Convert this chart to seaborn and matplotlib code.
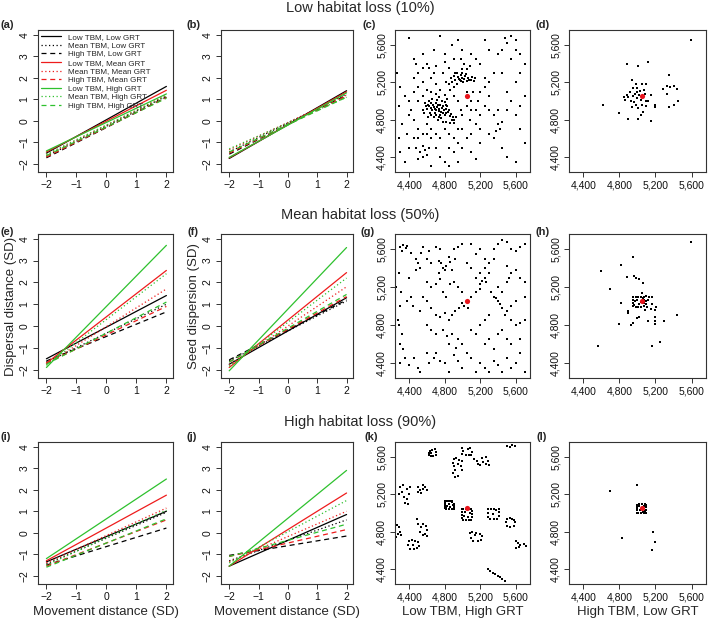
"""Dispersal response lines and seed shadow maps across habitat loss levels."""

import matplotlib
matplotlib.use("Agg")
import matplotlib.pyplot as plt
from matplotlib.lines import Line2D
import pandas as pd
import seaborn as sns

sns.set_theme(style="ticks")
plt.rcParams["font.family"] = ["Liberation Sans", "DejaVu Sans"]

# ---------------------------------------------------------------- data
LINE_LABELS = [
    "Low TBM, Low GRT", "Mean TBM, Low GRT", "High TBM, Low GRT",
    "Low TBM, Mean GRT", "Mean TBM, Mean GRT", "High TBM, Mean GRT",
    "Low TBM, High GRT", "Mean TBM, High GRT", "High TBM, High GRT",
]
MOVE_X = [-2, 2]

# fitted response at movement distance -2 and +2 (SD), one value per line
a_start = [-1.50, -1.65, -1.72, -1.45, -1.60, -1.68, -1.40, -1.55, -1.62]
a_end = [1.60, 1.15, 1.10, 1.42, 1.20, 1.08, 1.25, 1.15, 1.05]
b_start = [-1.75, -1.45, -1.55, -1.72, -1.35, -1.50, -1.70, -1.30, -1.45]
b_end = [1.40, 1.25, 1.20, 1.35, 1.20, 1.15, 1.30, 1.10, 1.10]
e_start = [-1.50, -1.65, -1.60, -1.70, -1.75, -1.70, -1.90, -1.80, -1.75]
e_end = [1.40, 1.00, 0.65, 2.55, 1.70, 0.90, 3.70, 2.40, 1.10]
f_start = [-1.75, -1.60, -1.55, -1.90, -1.80, -1.65, -2.05, -1.85, -1.65]
f_end = [1.30, 1.15, 1.20, 2.45, 1.80, 1.35, 3.60, 2.20, 1.45]
i_start = [-1.35, -1.45, -1.50, -1.30, -1.40, -1.55, -1.20, -1.50, -1.60]
i_end = [1.00, 0.95, 0.22, 1.75, 1.15, 0.60, 2.50, 1.05, 0.65]
j_start = [-1.55, -1.30, -1.05, -1.55, -1.35, -1.10, -1.55, -1.40, -1.10]
j_end = [0.85, 0.60, -0.15, 1.85, 1.00, 0.15, 2.90, 1.50, 0.40]

LINE_TICKS = [-2, -1, 0, 1, 2]
RESP_TICKS = [-2, -1, 0, 1, 2, 3, 4]
MAP_TICKS = [4400, 4800, 5200, 5600]
MAP_TICK_LABELS = ["4,400", "4,800", "5,200", "5,600"]
SOURCE_TREE = (5050, 5050)

ROW_TITLES = ["Low habitat loss (10%)", "Mean habitat loss (50%)",
              "High habitat loss (90%)"]
PANEL_TAGS = ["(a)", "(b)", "(c)", "(d)", "(e)", "(f)",
              "(g)", "(h)", "(i)", "(j)", "(k)", "(l)"]

# seed landing points (x, y in m)
c_pts = [
    (4620, 4950), (4650, 4980), (4680, 4940), (4700, 4900), (4720, 4960), (4740, 4920),
    (4760, 4880), (4780, 4950), (4800, 4990), (4660, 4900), (4690, 4870), (4710, 5010),
    (4740, 5040), (4770, 5000), (4820, 4920), (4840, 4880), (4600, 4920), (4630, 4870),
    (4750, 4850), (4800, 4850), (4680, 4830), (4720, 4800), (4860, 4840), (4880, 4800),
    (4900, 4760), (4580, 4980), (4560, 4900), (4800, 5060), (4830, 5020), (4760, 4820),
    (4610, 4960), (4640, 4930), (4670, 4960), (4690, 4920), (4710, 4940), (4730, 4890),
    (4750, 4960), (4770, 4930), (4790, 4900), (4810, 4960), (4650, 4850), (4700, 4850),
    (4730, 4830), (4780, 4870), (4820, 4870), (4850, 4900), (4870, 4860), (4890, 4830),
    (4700, 4980), (4660, 5020), (4620, 5000), (4590, 4950), (4570, 4870), (4610, 4830),
    (4780, 4780), (4820, 4780), (4860, 4760), (4900, 4800), (4930, 4830), (4830, 4950),
    (4880, 5200), (4920, 5230), (4950, 5260), (4980, 5280), (5000, 5300), (5030, 5270),
    (5060, 5250), (5100, 5230), (5130, 5210), (4900, 5150), (4940, 5180), (4970, 5220),
    (5010, 5200), (5050, 5210), (4860, 5120), (4920, 5300), (4990, 5340), (5050, 5340),
    (5080, 5380), (5020, 5400), (4900, 5270), (4960, 5240), (4980, 5210), (5020, 5240),
    (5040, 5290), (5070, 5220), (5110, 5260), (5140, 5250), (5000, 5250), (4940, 5300),
    (4870, 5250), (4850, 5180), (4500, 5300), (4550, 5200), (4600, 5120), (4650, 5250),
    (4700, 5180), (4750, 5120), (4780, 5300), (4820, 5200), (4850, 5350), (4700, 5380),
    (4600, 5400), (4900, 5050), (4950, 5000), (4980, 4900), (5000, 4850), (5050, 4950),
    (5100, 5000), (5150, 4900), (5080, 4800), (5120, 5100), (4950, 4700), (4900, 4600),
    (4850, 4650), (4800, 4700), (4750, 4600), (4700, 4650), (4650, 4700), (4600, 4750),
    (4550, 4650), (4500, 4700), (4450, 4800), (4420, 4900), (4400, 5000), (4450, 5100),
    (4350, 5050), (4500, 5000), (5000, 4700), (5050, 4600), (5100, 4650), (5150, 4750),
    (5200, 4850), (5250, 4950), (5300, 5050), (5200, 5100), (5250, 5150), (5300, 4900),
    (4450, 5250), (4500, 5150), (4550, 5050), (4650, 5100), (4700, 5080), (4680, 5300),
    (4620, 5350), (4560, 5350), (4480, 5400), (4800, 5420), (4900, 5450), (4980, 5450),
    (5050, 5100), (5100, 4900), (4950, 4550), (4850, 4500), (4650, 4600), (4600, 4650),
    (4500, 4600), (4400, 4850), (5250, 5250), (5300, 5200), (5180, 5000), (5200, 4700),
    (4520, 4450), (4550, 4400), (4580, 4480), (4600, 4420), (4500, 4380), (4620, 4500),
    (4560, 4520), (4480, 4500), (4350, 4350), (4400, 4500), (4450, 4600), (4380, 4650),
    (4700, 4500), (4750, 4400), (4800, 4350), (4850, 4300), (4900, 4450), (4950, 4350),
    (5000, 4500), (5100, 4450), (5150, 4380), (5200, 4550), (4650, 4300), (4300, 4450),
    (4280, 4950), (4300, 5150), (4260, 5300), (4320, 4750), (4290, 4600), (4450, 5450),
    (4550, 5500), (4680, 5550), (4800, 5500), (4880, 5600), (4950, 5650), (5000, 5550),
    (4400, 5680), (4750, 5700), (5100, 5500), (5150, 5450), (5200, 5400), (5350, 4850),
    (5400, 4750), (5420, 4700), (5380, 4680), (5450, 4780), (5500, 4900), (5550, 5000),
    (5600, 4850), (5650, 4700), (5700, 4550), (5350, 4600), (5450, 4500), (5500, 4400),
    (5600, 4350), (5300, 4650), (5500, 5100), (5600, 5200), (5650, 5300), (5700, 5050),
    (5350, 5300), (5400, 5500), (5450, 5550), (5500, 5620), (5550, 5700), (5600, 5650),
    (5480, 5680), (5650, 5500), (5300, 5550), (5250, 5650), (5400, 4900), (5450, 5300),
    (5550, 5450), (5600, 5550), (5700, 5400), (5650, 4950),
]
d_pts = [
    (4880, 5400), (5010, 5380), (5120, 5420), (4940, 5230), (5590, 5650), (4620, 4960),
    (4800, 4870), (4900, 4810), (5010, 4810), (5150, 4790), (5040, 4850), (5060, 4880),
    (5350, 5280), (5330, 5160), (5360, 5150), (5280, 5130), (5440, 5130), (5400, 5160),
    (5330, 5080), (5400, 4960), (5350, 4940), (5450, 5000), (5200, 4940), (5190, 4960),
    (5150, 5060), (5100, 5180), (5050, 5180), (4980, 5180), (4950, 5050), (4970, 5080),
    (5000, 5030), (5020, 5060), (5040, 5010), (4930, 5000), (4960, 4990), (4990, 5100),
    (5030, 5110), (5060, 5050), (5080, 5080), (4900, 5040), (4880, 5060), (4920, 5100),
    (4980, 4960), (5010, 4930), (5050, 4960), (5090, 5000), (4940, 4940), (5070, 5120),
    (4860, 5010), (4850, 5040), (5120, 5000), (5100, 4950), (5000, 5140), (4950, 5140),
]
g_pts = [
    (4300, 5620), (4330, 5640), (4360, 5610), (4380, 5630), (4320, 5580), (4420, 5560),
    (4480, 5500), (4500, 5450), (4520, 5400), (4480, 5380), (4530, 5560), (4550, 5620),
    (4290, 5350), (4310, 5150), (4250, 5200), (4400, 5300), (4420, 5100), (4380, 5050),
    (4440, 5000), (4300, 5000), (4270, 4850), (4280, 4800), (4320, 4700), (4700, 5620),
    (4750, 5600), (4730, 5480), (4760, 5450), (4780, 5400), (4800, 5380), (4820, 5420),
    (4740, 5350), (4850, 5520), (4860, 5460), (4880, 5380), (4900, 5600), (4920, 5500),
    (4950, 5620), (5000, 5650), (4650, 5450), (4600, 5500), (4620, 5580), (4600, 5250),
    (4650, 5200), (4700, 5230), (4750, 5280), (4780, 5150), (4820, 5100), (4860, 5230),
    (4900, 5250), (4950, 5200), (5000, 5150), (4550, 5100), (4600, 5050), (4650, 4980),
    (4520, 4950), (4700, 4900), (4750, 4880), (4800, 4930), (4850, 4850), (4880, 4900),
    (4920, 4950), (4960, 4980), (5000, 5030), (5020, 5000), (5060, 4980), (4600, 4800),
    (4650, 4750), (4700, 4700), (4780, 4750), (4830, 4680), (4880, 4700), (4950, 4650),
    (4930, 4560), (5000, 4600), (4850, 4600), (4300, 4600), (4330, 4550), (4350, 4450),
    (4300, 4400), (4400, 4380), (4450, 4450), (4500, 4350), (4520, 4300), (4600, 4500),
    (4620, 4400), (4680, 4450), (4700, 4500), (4750, 4420), (4800, 4400), (4850, 4300),
    (4900, 4480), (4950, 4420), (5000, 4350), (5050, 4500), (5100, 4450), (5150, 4300),
    (5200, 4400), (5250, 4350), (5300, 4300), (5350, 4420), (5400, 4380), (5450, 4300),
    (5500, 4450), (5550, 4350), (5600, 4400), (5650, 4500), (5700, 4300), (5100, 5100),
    (5150, 5150), (5200, 5180), (5200, 5230), (5220, 5260), (5250, 5300), (5270, 5250),
    (5300, 5350), (5320, 5150), (5350, 5100), (5380, 5080), (5400, 5050), (5420, 5020),
    (5450, 4980), (5400, 5200), (5450, 5150), (5500, 5250), (5520, 5300), (5550, 5350),
    (5500, 5420), (5600, 5380), (5650, 5300), (5700, 5250), (5700, 5100), (5600, 5050),
    (5550, 5000), (5500, 4950), (5480, 4900), (5550, 4850), (5600, 4800), (5650, 4820),
    (5700, 4850), (5450, 4750), (5400, 4700), (5500, 4650), (5550, 4600), (5650, 4650),
    (5300, 4900), (5250, 4850), (5200, 4800), (5150, 4700), (5100, 4750), (5250, 4600),
    (5300, 4650), (5350, 4550), (5150, 5550), (5200, 5600), (5250, 5500), (5300, 5450),
    (5350, 5600), (5400, 5650), (5450, 5700), (5500, 5680), (5550, 5600), (5600, 5580),
    (5650, 5620), (5700, 5650), (5100, 5650), (5050, 5450), (5350, 5500), (5250, 5400),
    (5100, 5400), (5200, 5350), (5150, 5300),
]
h_pts = [
    (5590, 5680), (4950, 5520), (4820, 5430), (4600, 5370), (4880, 5310), (4980, 5300),
    (5020, 5290), (4960, 5320), (5060, 5240), (4700, 5180), (4820, 5030), (4890, 4950),
    (4890, 4930), (4800, 4810), (4930, 4800), (4950, 4820), (5000, 4870), (5020, 4880),
    (5200, 4880), (5200, 4840), (5200, 4810), (5200, 4960), (5210, 4990), (5300, 4840),
    (5440, 4900), (5120, 4840), (5050, 5140), (5100, 5110), (5130, 5100), (5160, 5090),
    (5120, 5060), (5160, 5020), (5150, 4970), (4560, 4580), (5160, 4580), (5250, 4620),
    (4950, 5000), (4950, 5030), (4950, 5060), (4950, 5090), (4980, 5090), (5010, 5090),
    (5040, 5090), (5070, 5090), (5070, 5060), (5070, 5030), (5070, 5000), (5040, 4990),
    (5010, 4990), (4980, 4990), (4970, 5050), (5000, 5060), (5020, 5020), (5040, 5040),
    (4960, 5010), (5060, 5080), (5090, 5050), (5100, 5020), (5110, 4990), (5080, 4960),
]
k_pts = [
    (4620, 5620), (4640, 5610), (4670, 5615), (4700, 5620), (4700, 5650), (4690, 5680),
    (4660, 5675), (4630, 5660), (4620, 5640), (4650, 5640), (5500, 5720), (5530, 5710),
    (5560, 5730), (5590, 5720), (5000, 5700), (5010, 5660), (5000, 5630), (5040, 5620),
    (5070, 5625), (5100, 5620), (5110, 5650), (5060, 5690), (5080, 5700), (4900, 5580),
    (4930, 5590), (4960, 5570), (4890, 5540), (4900, 5500), (4920, 5460), (4890, 5430),
    (4950, 5520), (4980, 5500), (5000, 5460), (4950, 5400), (4920, 5390), (4990, 5560),
    (5130, 5580), (5160, 5560), (5180, 5520), (5200, 5510), (5230, 5550), (5260, 5520),
    (5290, 5560), (5300, 5510), (5270, 5600), (5220, 5590), (4300, 5280), (4320, 5230),
    (4290, 5200), (4340, 5170), (4380, 5150), (4400, 5200), (4410, 5280), (4370, 5260),
    (4350, 5110), (4390, 5100), (4330, 5300), (4500, 5280), (4520, 5250), (4550, 5300),
    (4580, 5280), (4600, 5250), (4500, 5220), (4530, 5210), (4560, 5260), (4800, 5130),
    (4820, 5130), (4840, 5130), (4860, 5130), (4880, 5130), (4800, 5110), (4800, 5090),
    (4800, 5070), (4800, 5050), (4820, 5040), (4850, 5040), (4880, 5040), (4910, 5040),
    (4910, 5060), (4910, 5080), (4910, 5100), (4880, 5120), (4830, 5080), (4850, 5100),
    (4860, 5060), (4820, 5060), (4890, 5090), (4990, 5040), (5010, 5040), (5040, 5040),
    (5070, 5040), (5100, 5040), (4990, 5010), (4990, 4980), (4990, 4950), (5010, 4930),
    (5040, 4930), (5070, 4930), (5100, 4930), (5110, 4960), (5110, 4990), (5110, 5020),
    (5020, 4970), (5080, 5000), (5030, 5010), (5060, 4960), (5290, 5040), (5320, 5040),
    (5350, 5040), (5380, 5030), (5410, 5040), (5290, 5000), (5290, 4960), (5310, 4940),
    (5350, 4935), (5390, 4940), (5410, 4970), (5410, 5010), (5340, 4990), (5500, 4940),
    (5530, 4950), (5560, 4940), (5490, 4900), (5500, 4860), (5540, 4850), (5580, 4860),
    (5590, 4900), (5580, 4930), (4490, 4940), (4500, 4880), (4530, 4850), (4560, 4880),
    (4590, 4860), (4600, 4820), (4580, 4780), (4600, 4750), (4550, 4760), (4520, 4800),
    (5090, 4790), (5110, 4800), (5150, 4790), (5200, 4780), (5220, 4750), (5210, 4710),
    (5170, 4700), (5120, 4700), (5100, 4730), (5140, 4760), (4400, 4700), (4430, 4715),
    (4470, 4700), (4500, 4690), (4390, 4660), (4410, 4620), (4450, 4610), (4490, 4630),
    (4510, 4650), (4440, 4660), (4260, 4870), (4280, 4850), (4300, 4800), (4270, 4780),
    (4250, 4740), (4310, 4760), (5600, 4700), (5620, 4680), (5650, 4660), (5690, 4670),
    (5720, 4650), (5600, 4630), (5640, 4640), (5290, 4400), (5310, 4380), (5340, 4360),
    (5370, 4350), (5400, 4330), (5420, 4310), (5450, 4290), (5480, 4270),
]
l_pts = [
    (4700, 5240), (4995, 5295), (4830, 4730), (5170, 4800), (5190, 4685), (5160, 4600),
    (4990, 5000), (4990, 5030), (4990, 5060), (4990, 5090), (5020, 5095), (5050, 5095),
    (5080, 5095), (5100, 5090), (5100, 5060), (5100, 5030), (5100, 5000), (5070, 4995),
    (5040, 4995), (5010, 4995), (5010, 5070), (5030, 5030), (5070, 5070), (5000, 5045),
    (5085, 5020), (5020, 5080), (5060, 5010),
]

# ---------------------------------------------------------------- style
COLORS = ["black"] * 3 + ["#ee1c1c"] * 3 + ["#2ec12e"] * 3
DASHES = ["", (1, 2), (4, 3)] * 3
INK = "#333333"

# axes rectangles in figure fraction: columns (left, width), rows (bottom, height)
COLS = [(0.0536, 0.1904), (0.3117, 0.1862), (0.5571, 0.1904), (0.8025, 0.1932)]
ROWS = [(0.7252, 0.2268), (0.3962, 0.2300), (0.0671, 0.2268)]


def style_axes(ax):
    for side in ax.spines.values():
        side.set_color(INK)
        side.set_linewidth(0.8)
    ax.tick_params(length=3.5, width=0.7, color=INK, labelsize=7.5,
                   labelcolor="#111111", pad=2.5)
    ax.tick_params(axis="y", labelrotation=90)
    for lab in ax.get_yticklabels():
        lab.set_va("center")
    ax.grid(False)


def plot_lines(ax, start, end):
    """Straight model predictions from movement distance -2 to +2 SD."""
    rows = []
    for lab, s, e in zip(LINE_LABELS, start, end):
        rows.append({"move": MOVE_X[0], "resp": s, "combo": lab})
        rows.append({"move": MOVE_X[1], "resp": e, "combo": lab})
    df = pd.DataFrame(rows)
    sns.lineplot(data=df, x="move", y="resp", hue="combo", style="combo",
                 palette=dict(zip(LINE_LABELS, COLORS)),
                 dashes=dict(zip(LINE_LABELS, DASHES)),
                 estimator=None, sort=False, linewidth=0.9, legend=False, ax=ax)
    ax.set_xlim(-2.28, 2.22)
    ax.set_ylim(-2.38, 4.22)
    ax.set_xticks(LINE_TICKS)
    ax.set_xticklabels([str(t).replace("-", "\u2212") for t in LINE_TICKS])
    ax.set_yticks(RESP_TICKS)
    ax.set_yticklabels([str(t).replace("-", "\u2212") for t in RESP_TICKS])
    ax.set_xlabel("")
    ax.set_ylabel("")
    style_axes(ax)


def plot_map(ax, pts):
    """Seed landing positions around the source tree."""
    xs = [p[0] for p in pts]
    ys = [p[1] for p in pts]
    sns.scatterplot(x=xs, y=ys, color="black", marker="s", s=1.8,
                    linewidth=0, ax=ax)
    sns.scatterplot(x=[SOURCE_TREE[0]], y=[SOURCE_TREE[1]], color="#e8141c",
                    s=14, linewidth=0, ax=ax)
    ax.set_xlim(4240, 5760)
    ax.set_ylim(4240, 5760)
    ax.set_xticks(MAP_TICKS)
    ax.set_xticklabels(MAP_TICK_LABELS)
    ax.set_yticks(MAP_TICKS)
    ax.set_yticklabels(MAP_TICK_LABELS)
    style_axes(ax)


fig = plt.figure(figsize=(7.09, 6.26), dpi=100)
axes = [[fig.add_axes([c[0], r[0], c[1], r[1]]) for c in COLS] for r in ROWS]

line_data = [(a_start, a_end), (b_start, b_end), (e_start, e_end),
             (f_start, f_end), (i_start, i_end), (j_start, j_end)]
map_data = [c_pts, d_pts, g_pts, h_pts, k_pts, l_pts]

for r in range(3):
    for c in range(2):
        plot_lines(axes[r][c], *line_data[r * 2 + c])
    for c in range(2):
        plot_map(axes[r][c + 2], map_data[r * 2 + c])

# legend only in panel (a)
handles = [Line2D([], [], color=col, lw=0.9,
                  linestyle="-" if d == "" else (0, d))
           for col, d in zip(COLORS, DASHES)]
axes[0][0].legend(handles, LINE_LABELS, loc="upper left", frameon=False,
                  fontsize=5.8, handlelength=2.5, handletextpad=0.8,
                  labelspacing=0.12, borderaxespad=0.15, borderpad=0.25)

axes[1][0].set_ylabel("Dispersal distance (SD)", fontsize=9.5, labelpad=2)
axes[1][1].set_ylabel("Seed dispersion (SD)", fontsize=9.5, labelpad=2)
axes[2][0].set_xlabel("Movement distance (SD)", fontsize=9.5, labelpad=3)
axes[2][1].set_xlabel("Movement distance (SD)", fontsize=9.5, labelpad=3)
axes[2][2].set_xlabel("Low TBM, High GRT", fontsize=9.5, labelpad=3)
axes[2][3].set_xlabel("High TBM, Low GRT", fontsize=9.5, labelpad=3)

for title, y in zip(ROW_TITLES, [0.987, 0.657, 0.326]):
    fig.text(0.508, y, title, ha="center", va="center", fontsize=10.5)

tag_pos = [(7, 25), (193, 25), (369, 25), (543, 25),
           (7, 232), (193, 232), (368, 232), (543, 232),
           (6, 437), (192, 437), (371, 437), (542, 437)]
for tag, (px, py) in zip(PANEL_TAGS, tag_pos):
    fig.text(px / 709, 1 - py / 626, tag, ha="center", va="center",
             fontsize=8, fontweight="bold")

fig.savefig("out.png", dpi=100)
plt.close(fig)
